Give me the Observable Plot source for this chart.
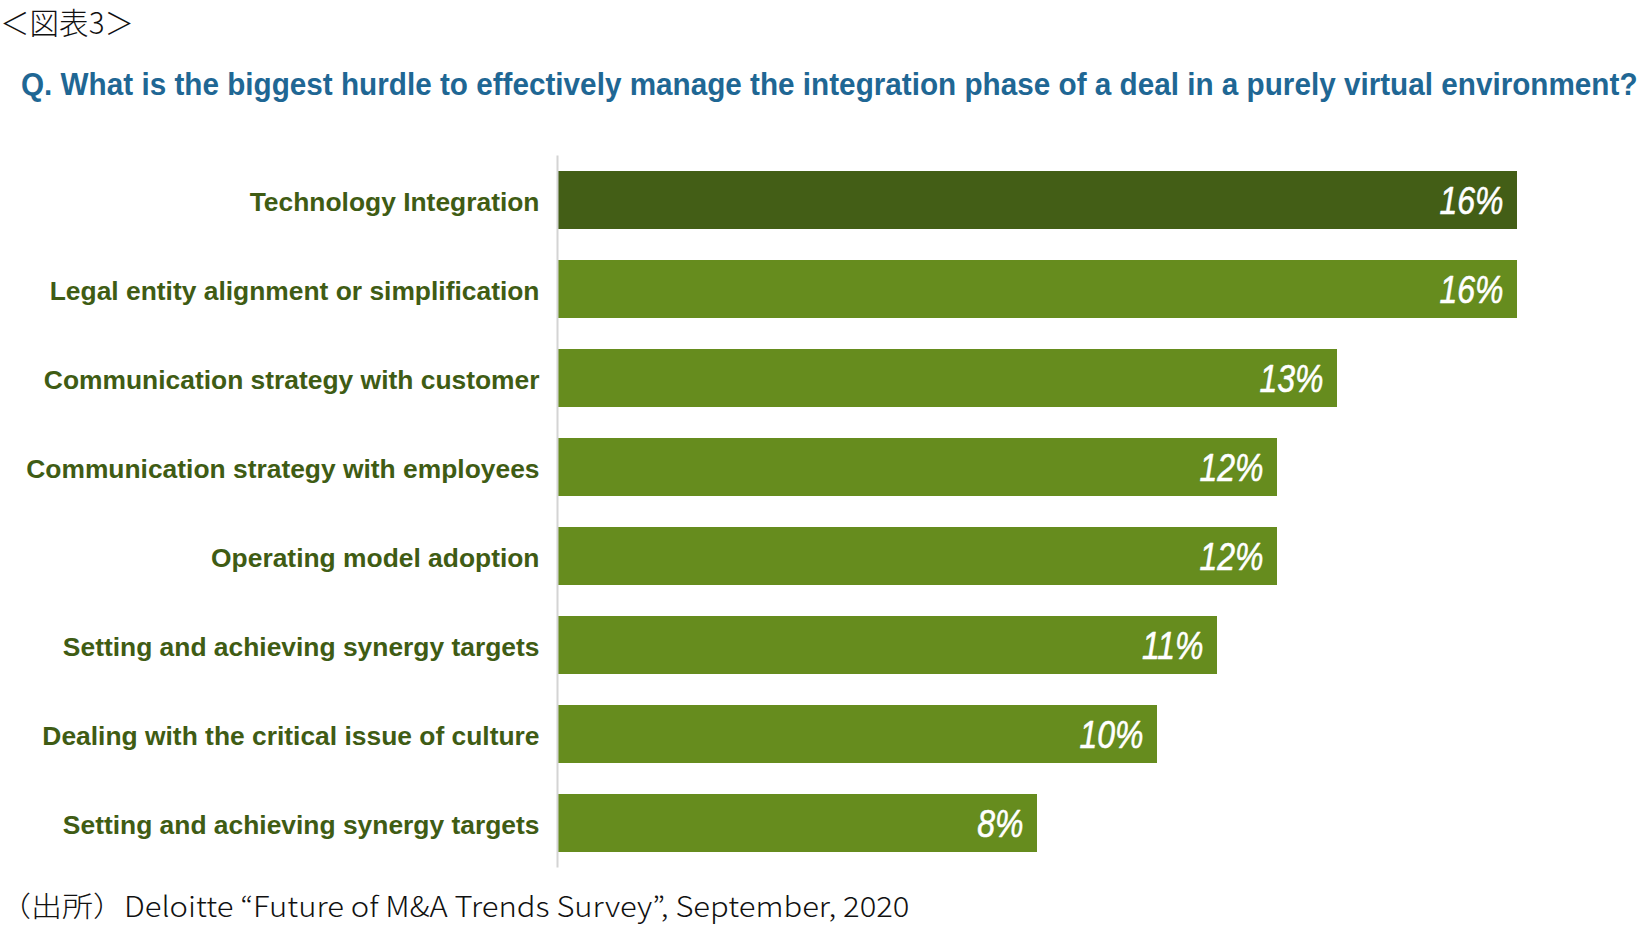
<!DOCTYPE html>
<html>
<head>
<meta charset="utf-8">
<script src="https://cdn.jsdelivr.net/npm/d3@7"></script>
<script src="https://cdn.jsdelivr.net/npm/@observablehq/plot@0.6"></script>
<style>
  html, body { margin: 0; padding: 0; background: #fff; }
  #wrap { position: relative; width: 1648px; height: 930px; overflow: hidden; }
  #wrap > svg { position: absolute; left: 0; }
  .jp { font-family: "Noto Sans CJK JP", "Noto Sans", sans-serif; font-weight: 300; fill: #111; }
</style>
</head>
<body>
<div id="wrap">
  <svg id="head" width="1648" height="130" style="top:0">
    <text class="jp" x="0" y="34" font-size="30" textLength="134" lengthAdjust="spacingAndGlyphs">＜図表3＞</text>
    <text id="q" x="0" y="0" font-size="32" font-weight="bold" fill="#1F6794"
      font-family="'Liberation Sans', Arial, sans-serif"></text>
  </svg>
  <svg id="foot" width="1648" height="60" style="top:870px">
    <text id="cap" class="jp" x="0" y="0" font-size="28"></text>
  </svg>
</div>
<script>
const title = "Q. What is the biggest hurdle to effectively manage the integration phase of a deal in a purely virtual environment?";
const caption = "（出所）Deloitte “Future of M&A Trends Survey”, September, 2020";
const categories = [
  "Technology Integration",
  "Legal entity alignment or simplification",
  "Communication strategy with customer",
  "Communication strategy with employees",
  "Operating model adoption",
  "Setting and achieving synergy targets",
  "Dealing with the critical issue of culture",
  "Setting and achieving synergy targets"
];
const values = [16, 16, 13, 12, 12, 11, 10, 8];
const highlight = [true, false, false, false, false, false, false, false];

function fitText(el, text, x, y, targetWidth) {
  el.textContent = text;
  const w = el.getComputedTextLength();
  const s = targetWidth / w;
  el.setAttribute("transform", `translate(${x},${y}) scale(${s},1)`);
}
fitText(document.getElementById("q"), title, 21, 95, 1617);
fitText(document.getElementById("cap"), caption, 0, 47, 910);

const data = categories.map((c, i) => ({i, label: c, value: values[i], hi: highlight[i]}));

const chart = Plot.plot({
  width: 1648,
  height: 750,
  marginTop: 25.5,
  marginBottom: 12.5,
  marginLeft: 557,
  marginRight: 11,
  style: {background: "transparent"},
  x: {domain: [0, 18], axis: null},
  y: {domain: d3.range(categories.length), paddingInner: 0.35, paddingOuter: 0.175, label: null},
  marks: [
    Plot.barX(data, {
      x: "value", y: "i",
      fill: d => d.hi ? "#435E16" : "#668C1E"
    }),
    Plot.ruleX([0], {stroke: "#D4D4D4", strokeWidth: 2}),
    Plot.axisY({
      tickSize: 0, tickPadding: 18, dy: 2,
      tickFormat: i => categories[i],
      fontSize: 26.4, fontWeight: "bold", fill: "#3F5C14",
      fontFamily: "'Liberation Sans', Arial, sans-serif",
      label: null
    }),
    Plot.text(data, {
      x: "value", y: "i", text: d => d.value + "%",
      textAnchor: "end", dy: 1,
      fill: "white", fontSize: 39, fontStyle: "italic",
      fontFamily: "'Liberation Sans', Arial, sans-serif",
      stroke: "white", strokeWidth: 0.6,
      className: "vlab"
    })
  ]
});
chart.style.position = "absolute";
chart.style.top = "130px";
chart.style.left = "0px";
document.getElementById("wrap").appendChild(chart);
// condense the value labels (narrow italic in the original) and inset them from the bar end
d3.select(chart).selectAll(".vlab text").each(function() {
  const t = this.getAttribute("transform") || "";
  this.setAttribute("transform", t + " translate(-14,0) scale(0.82,1)");
});
</script>
</body>
</html>
